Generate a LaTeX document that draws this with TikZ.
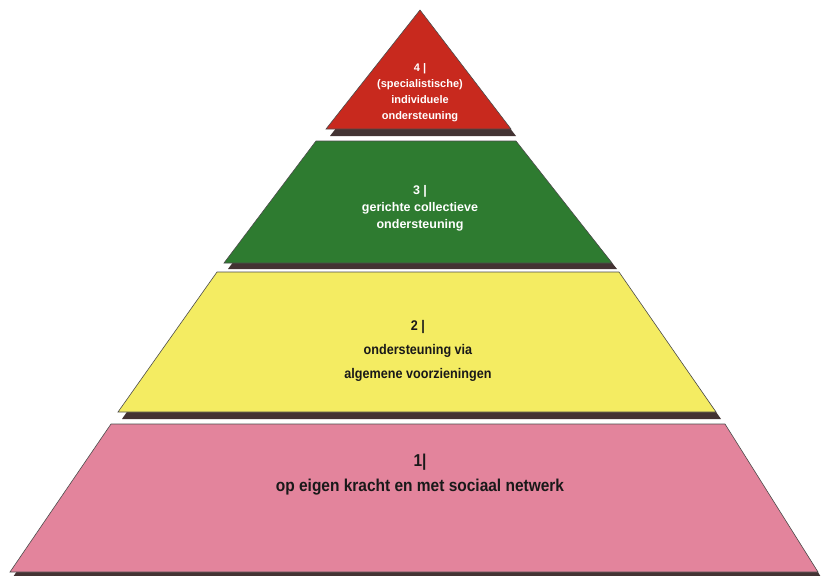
\documentclass[tikz,border=0pt]{standalone}
\usepackage{fontspec}
\setmainfont{Liberation Sans}
\newfontfamily\labfont[FakeStretch=0.9]{Liberation Sans}
\begin{document}
\begin{tikzpicture}[x=1pt,y=-1pt,
  layer/.style={draw=black!70, line width=0.6pt},
  shade/.style={fill=black!80!red!40!black, opacity=0.8},
  whitetxt/.style={text=white, align=center, inner sep=0pt},
  blacktxt/.style={text=black!90, align=center, inner sep=0pt}]
\definecolor{redlayer}{HTML}{C8291E}
\definecolor{greenlayer}{HTML}{2E7B30}
\definecolor{yellowlayer}{HTML}{F4EC62}
\definecolor{pinklayer}{HTML}{E3849C}
\useasboundingbox[fill=white] (0,0) rectangle (823,576);
% shadows
\fill[shade] (114,430) -- (728,430) -- (821,577) -- (13,577) -- cycle;
\fill[shade] (220,278) -- (622,278) -- (721,419) -- (122,419) -- cycle;
\fill[shade] (319,147) -- (519,147) -- (617,269) -- (228,269) -- cycle;
\fill[shade] (423,16) -- (516,136) -- (330,136) -- cycle;
% layers
\fill[pinklayer, layer] (111,424) -- (725,424) -- (818,572) -- (10,572) -- cycle;
\fill[yellowlayer, layer] (217,272) -- (619,272) -- (716,412) -- (118,412) -- cycle;
\fill[greenlayer, layer] (316,141) -- (516,141) -- (612,263) -- (224,263) -- cycle;
\fill[redlayer, layer] (420,10) -- (511,129) -- (326,129) -- cycle;
% texts
\node[whitetxt, font=\bfseries\fontsize{11}{16}\selectfont] (t4) at (420,93)
  {4 |\\(specialistische)\\individuele\\ondersteuning};
\node[whitetxt, font=\bfseries\fontsize{12.5}{17}\selectfont] (t3) at (420,208)
  {3 |\\gerichte collectieve\\ondersteuning};
\node[blacktxt, font=\labfont\bfseries\fontsize{14}{24}\selectfont] (t2) at (418,351)
  {2 |\\ondersteuning via\\algemene voorzieningen};
\node[blacktxt, font=\labfont\bfseries\fontsize{17.2}{25}\selectfont] (t1) at (420,475)
  {1|\\op eigen kracht en met sociaal netwerk};
\end{tikzpicture}
\end{document}
